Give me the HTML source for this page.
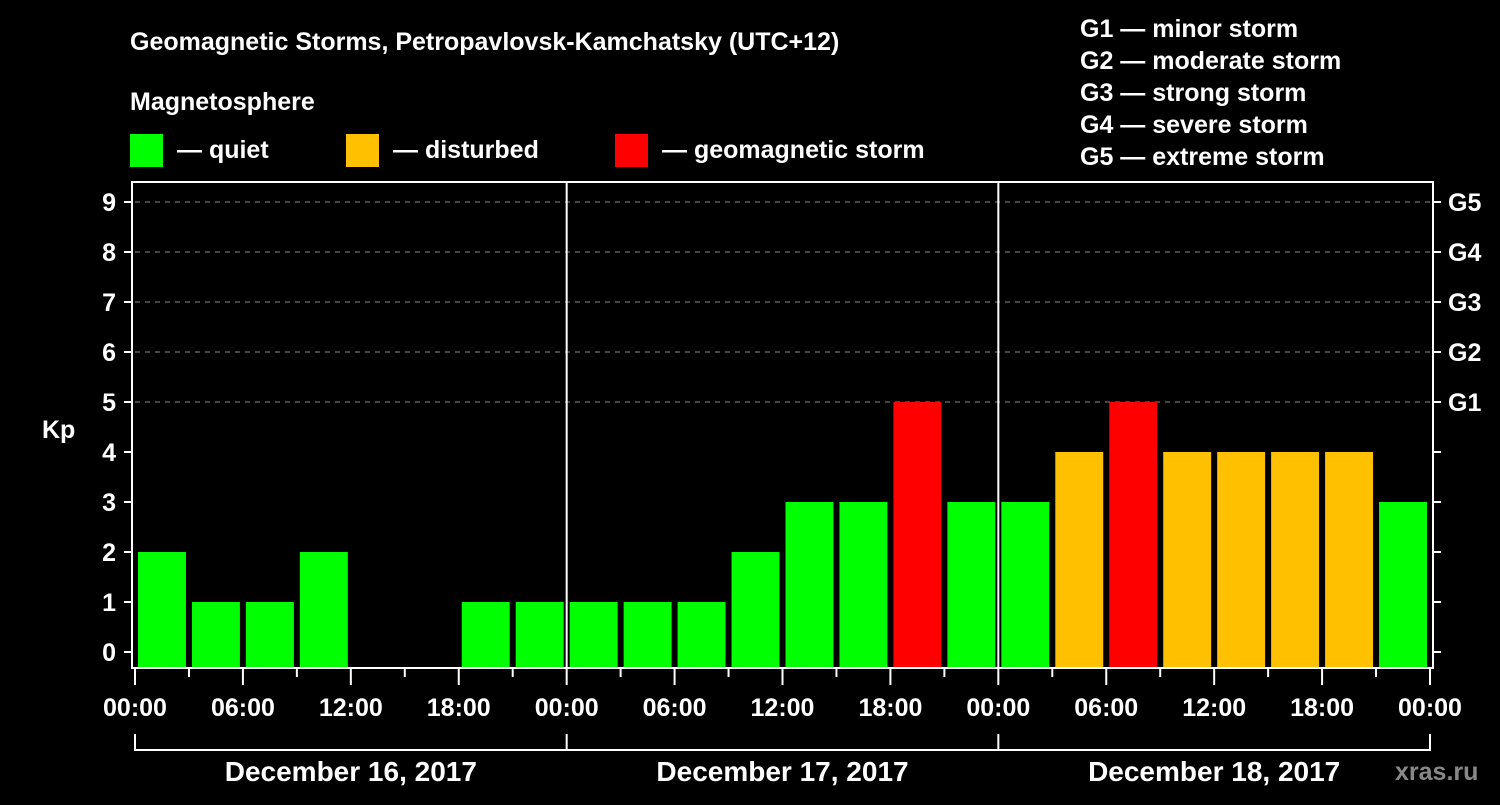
<!DOCTYPE html>
<html><head><meta charset="utf-8"><style>
body{margin:0;background:#000;}
text{font-family:"Liberation Sans",Arial,sans-serif;font-weight:bold;fill:#fff;}
</style></head><body>
<svg id="c" width="1500" height="800" viewBox="0 0 1500 800" xmlns="http://www.w3.org/2000/svg">
<rect width="1500" height="800" fill="#000"/>
<text x="130" y="50" font-size="25">Geomagnetic Storms, Petropavlovsk-Kamchatsky (UTC+12)</text>
<text x="130" y="110" font-size="25">Magnetosphere</text>
<g><rect x="130" y="134" width="33" height="33" fill="#00ff00"/><text x="177" y="158" font-size="25">— quiet</text></g>
<g><rect x="346" y="134" width="33" height="33" fill="#ffc000"/><text x="393" y="158" font-size="25">— disturbed</text></g>
<g><rect x="615" y="134" width="33" height="33" fill="#ff0000"/><text x="662" y="158" font-size="25">— geomagnetic storm</text></g>
<g font-size="25">
<text x="1080" y="37">G1 — minor storm</text>
<text x="1080" y="69">G2 — moderate storm</text>
<text x="1080" y="101">G3 — strong storm</text>
<text x="1080" y="133">G4 — severe storm</text>
<text x="1080" y="165">G5 — extreme storm</text>
</g>
<text x="42" y="438" font-size="25">Kp</text>
<g id="grid"></g><g id="bars"></g><g id="axes"></g>
<text x="1395" y="780" font-size="25" fill="#888" style="fill:#888">xras.ru</text>
</svg>
<script>
const dayLabels=["December 16, 2017","December 17, 2017","December 18, 2017"];
const kpValues=[2,1,1,2,0,0,1,1, 1,1,1,2,3,3,5,3, 3,4,5,4,4,4,4,3];
const yTicks=[0,1,2,3,4,5,6,7,8,9];
const gLabels=["G1","G2","G3","G4","G5"];
const timeLabels=["00:00","06:00","12:00","18:00"];
const NS="http://www.w3.org/2000/svg";
const X0=135,X1=1430,Y0=652,UNIT=50,BOTTOM=668,TOP=182;
const slot=(X1-X0)/kpValues.length;
const xs=h=>X0+h/3*slot; // hours from start
const ys=v=>Y0-v*UNIT;
function mk(tag,attrs,parent,txt){const e=document.createElementNS(NS,tag);for(const k in attrs)e.setAttribute(k,attrs[k]);if(txt!==undefined)e.textContent=txt;parent.appendChild(e);return e;}
const grid=document.getElementById('grid'),bars=document.getElementById('bars'),axes=document.getElementById('axes');
for(let v=5;v<=9;v++){const l=mk('line',{x1:X0,x2:X1,y1:ys(v),y2:ys(v),stroke:'#888','stroke-dasharray':'5,5','stroke-width':1},grid);

}
kpValues.forEach((v,i)=>{if(v<=0)return;
const col=v>=5?'#ff0000':(v>=4?'#ffc000':'#00ff00');
const r=mk('rect',{x:xs(i*3)+3,y:ys(v),width:slot-6,height:BOTTOM-ys(v),fill:col},bars);

});
// frame
const f=mk('rect',{x:132,y:TOP,width:X1+3-132,height:BOTTOM-TOP,fill:'none',stroke:'#fff','stroke-width':2},axes);


for(let d=1;d<dayLabels.length;d++){const l=mk('line',{x1:xs(d*24),x2:xs(d*24),y1:TOP,y2:BOTTOM,stroke:'#fff','stroke-width':2},axes);

}
yTicks.forEach(v=>{mk('line',{x1:124,x2:132,y1:ys(v),y2:ys(v),stroke:'#fff','stroke-width':2},axes);
mk('line',{x1:X1+3,x2:X1+11,y1:ys(v),y2:ys(v),stroke:'#fff','stroke-width':2},axes);
const t=mk('text',{x:116,y:ys(v)+9,'font-size':25,'text-anchor':'end'},axes,String(v));

});
gLabels.forEach((g,i)=>{const t=mk('text',{x:1448,y:ys(5+i)+9,'font-size':25},axes,g);

});
const totalH=kpValues.length*3;
for(let h=0;h<=totalH;h+=3){const major=h%6===0;
mk('line',{x1:xs(h),x2:xs(h),y1:BOTTOM+1,y2:major?685:677,stroke:'#fff','stroke-width':2},axes);
if(major){const lbl=h===totalH?timeLabels[0]:timeLabels[(h%24)/6];
const t=mk('text',{x:xs(h),y:716,'font-size':25,'text-anchor':'middle'},axes,lbl);

}}
const br=mk('path',{d:'',fill:'none',stroke:'#fff','stroke-width':2},axes);
let d='M'+xs(0)+',734 V750 H'+xs(totalH)+' V734';
for(let k=1;k<dayLabels.length;k++)d+=' M'+xs(k*24)+',734 V750';
br.setAttribute('d',d);


dayLabels.forEach((s,k)=>{const t=mk('text',{x:xs(k*24+12),y:781,'font-size':28,'text-anchor':'middle'},axes,s);

});
</script>
</body></html>
